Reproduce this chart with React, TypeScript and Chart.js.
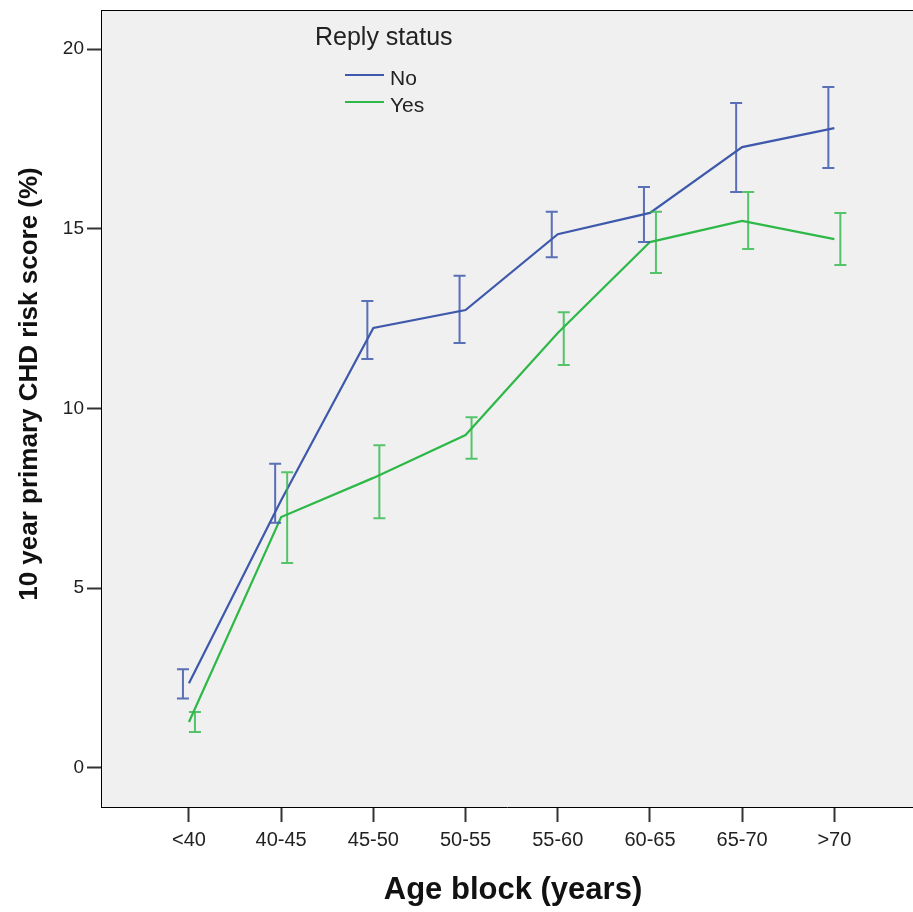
import React, { useEffect, useRef } from "react";
import { Chart, registerables } from "chart.js";

Chart.register(...registerables);

const categories = ["<40", "40-45", "45-50", "50-55", "55-60", "60-65", "65-70", ">70"];
const yTicks = [0, 5, 10, 15, 20];

const seriesNames = ["No", "Yes"];
const noMean = [2.36, 7.45, 12.24, 12.74, 14.85, 15.44, 17.27, 17.8];
const noLow = [1.93, 6.82, 11.38, 11.82, 14.21, 14.63, 16.02, 16.69];
const noHigh = [2.75, 8.46, 12.99, 13.69, 15.47, 16.16, 18.5, 18.94];
const yesMean = [1.28, 6.98, 8.07, 9.26, 12.1, 14.63, 15.22, 14.71];
const yesLow = [1.0, 5.7, 6.95, 8.6, 11.21, 13.77, 14.44, 13.99];
const yesHigh = [1.56, 8.23, 8.98, 9.76, 12.68, 15.47, 16.02, 15.44];

const legendTitle = "Reply status";
const xTitle = "Age block (years)";
const yTitle = "10 year primary CHD risk score (%)";

const COLORS = ["#3E58AC", "#2EB848"];
const BAR_COLORS = ["rgba(62,88,172,0.85)", "rgba(46,184,72,0.8)"];
const BAR_OFFSETS = [-6, 6];
const FONT = "'Liberation Sans', Arial, sans-serif";
const TEXT = "#222222";

export default function App() {
  const ref = useRef<HTMLCanvasElement | null>(null);

  useEffect(() => {
    const canvas = ref.current;
    if (!canvas) return;
    const means = [noMean, yesMean];
    const lows = [noLow, yesLow];
    const highs = [noHigh, yesHigh];

    const decor = {
      id: "spssDecor",
      beforeDraw(chart: any) {
        const { ctx, chartArea } = chart;
        ctx.save();
        ctx.fillStyle = "#f0f0f0";
        ctx.fillRect(chartArea.left, chartArea.top, chartArea.right - chartArea.left, chartArea.bottom - chartArea.top);
        ctx.restore();
      },
      afterDatasetsDraw(chart: any) {
        const { ctx, chartArea } = chart;
        const xs = chart.scales.x;
        const ys = chart.scales.y;
        ctx.save();
        // error bars
        for (let s = 0; s < 2; s++) {
          ctx.strokeStyle = BAR_COLORS[s];
          ctx.lineWidth = 2;
          for (let i = 0; i < categories.length; i++) {
            const x = xs.getPixelForValue(i) + BAR_OFFSETS[s];
            const yl = ys.getPixelForValue(lows[s][i]);
            const yh = ys.getPixelForValue(highs[s][i]);
            ctx.beginPath();
            ctx.moveTo(x, yl);
            ctx.lineTo(x, yh);
            ctx.moveTo(x - 6, yl);
            ctx.lineTo(x + 6, yl);
            ctx.moveTo(x - 6, yh);
            ctx.lineTo(x + 6, yh);
            ctx.stroke();
          }
        }
        // frame top
        ctx.strokeStyle = "#000";
        ctx.lineWidth = 1;
        ctx.beginPath();
        ctx.moveTo(chartArea.left, chartArea.top + 0.5);
        ctx.lineTo(chartArea.right, chartArea.top + 0.5);
        ctx.stroke();

        // legend
        ctx.fillStyle = TEXT;
        ctx.textBaseline = "alphabetic";
        ctx.textAlign = "left";
        ctx.font = `25px ${FONT}`;
        ctx.fillText(legendTitle, 315, 45);
        ctx.font = `21px ${FONT}`;
        const rows = [75, 102];
        for (let s = 0; s < 2; s++) {
          ctx.strokeStyle = COLORS[s];
          ctx.lineWidth = 2;
          ctx.beginPath();
          ctx.moveTo(345, rows[s]);
          ctx.lineTo(384, rows[s]);
          ctx.stroke();
          ctx.fillStyle = TEXT;
          ctx.fillText(seriesNames[s], 390, rows[s] + 10);
        }

        // axis titles
        ctx.fillStyle = "#111";
        ctx.font = `bold 31px ${FONT}`;
        ctx.textAlign = "center";
        ctx.fillText(xTitle, 513, 899);
        ctx.save();
        ctx.translate(37, 384);
        ctx.rotate(-Math.PI / 2);
        ctx.font = `bold 26px ${FONT}`;
        ctx.fillText(yTitle, 0, 0);
        ctx.restore();
        ctx.restore();
      },
    };

    const chart = new Chart(canvas, {
      type: "line",
      data: {
        datasets: seriesNames.map((name, s) => ({
          label: name,
          data: means[s].map((v, i) => ({ x: i, y: v })),
          borderColor: COLORS[s],
          backgroundColor: COLORS[s],
          borderWidth: 2.2,
          pointRadius: 0,
          fill: false,
          tension: 0,
        })),
      },
      options: {
        animation: false,
        responsive: false,
        devicePixelRatio: 1,
        layout: { padding: { top: 10, right: 0, bottom: 0, left: 0 } },
        plugins: { legend: { display: false }, tooltip: { enabled: false } },
        scales: {
          x: {
            type: "linear",
            min: -0.954,
            max: 7.853,
            afterBuildTicks: (s: any) => {
              s.ticks = categories.map((_, i) => ({ value: i }));
            },
            afterFit: (s: any) => {
              s.height = 105;
              s.paddingLeft = 0;
              s.paddingRight = 0;
            },
            ticks: {
              callback: (_v: any, idx: number) => categories[idx],
              font: { family: FONT, size: 20 },
              color: TEXT,
              padding: 6,
              autoSkip: false,
              maxRotation: 0,
            },
            grid: { display: true, drawOnChartArea: false, drawTicks: true, tickLength: 15, color: "#333", tickWidth: 2 },
            border: { display: true, color: "#000", width: 1 },
          },
          y: {
            type: "linear",
            min: -1.085,
            max: 21.085,
            afterBuildTicks: (s: any) => {
              s.ticks = yTicks.map((v) => ({ value: v }));
            },
            afterFit: (s: any) => {
              s.width = 101;
              s.paddingTop = 0;
              s.paddingBottom = 0;
            },
            ticks: {
              font: { family: FONT, size: 19 },
              color: TEXT,
              padding: 3,
            },
            grid: { display: true, drawOnChartArea: false, drawTicks: true, tickLength: 14, color: "#333", tickWidth: 2 },
            border: { display: true, color: "#000", width: 1 },
          },
        },
      },
      plugins: [decor],
    } as any);

    return () => chart.destroy();
  }, []);

  return (
    <div style={{ position: "absolute", left: 0, top: 0, width: 913, height: 912, background: "#fff" }}>
      <canvas ref={ref} width={913} height={912} style={{ width: 913, height: 912, display: "block" }} />
    </div>
  );
}
